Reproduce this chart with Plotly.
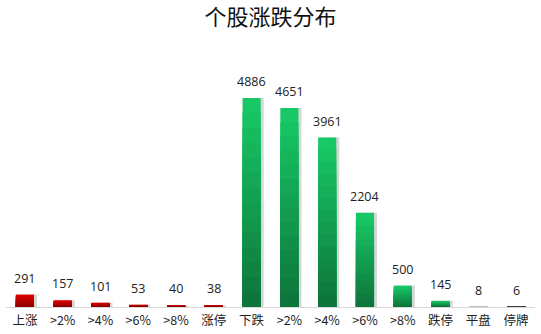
import plotly.graph_objects as go

categories = ["上涨", ">2%", ">4%", ">6%", ">8%", "涨停", "下跌", ">2%", ">4%", ">6%", ">8%", "跌停", "平盘", "停牌"]
values = [291, 157, 101, 53, 40, 38, 4886, 4651, 3961, 2204, 500, 145, 8, 6]
groups = ["up"] * 6 + ["down"] * 6 + ["flat", "halt"]

# (top colour, bottom colour) per group
grad = {
    "up": ((222, 0, 0), (140, 0, 0)),
    "down": ((24, 200, 102), (14, 118, 60)),
    "flat": ((215, 215, 215), (190, 190, 190)),
    "halt": ((90, 90, 90), (60, 60, 60)),
}
x = list(range(len(categories)))

fig = go.Figure()
# soft shadow
fig.add_trace(go.Bar(
    x=x, y=values, width=0.5, offset=-0.18,
    marker=dict(color="rgba(0,0,0,0.16)", line=dict(width=0)),
    hoverinfo="skip", showlegend=False,
))

steps = 14
for k in range(steps):
    frac = (steps - k) / steps
    t = k / (steps - 1)
    cols = []
    for g in groups:
        top, bot = grad[g]
        c = [round(top[i] + (bot[i] - top[i]) * t) for i in range(3)]
        cols.append("rgb(%d,%d,%d)" % tuple(c))
    fig.add_trace(go.Bar(
        x=x, y=[v * frac for v in values], width=0.48,
        marker=dict(color=cols, line=dict(width=0)),
        hoverinfo="skip", showlegend=False,
    ))

for xi, v in zip(x, values):
    fig.add_annotation(x=xi, y=v, text=str(v), showarrow=False,
                       yanchor="bottom", yshift=6,
                       font=dict(family="Open Sans, Noto Sans, sans-serif", size=12.5, color="#222222"))

fig.update_layout(
    width=541, height=334,
    margin=dict(l=6, r=6, t=40, b=27),
    paper_bgcolor="white", plot_bgcolor="white",
    barmode="overlay",
    title=dict(text="个股涨跌分布", x=0.5, xanchor="center", y=0.948, yanchor="middle",
               font=dict(family="Noto Sans CJK SC", size=22, color="#111111")),
    xaxis=dict(tickmode="array", tickvals=x, ticktext=categories,
               range=[-0.5, len(categories) - 0.5], automargin=False,
               showline=True, linecolor="#d9d9d9", linewidth=1,
               ticks="", showgrid=False, zeroline=False, ticklabelstandoff=2,
               tickfont=dict(family="Noto Sans CJK SC, Open Sans, sans-serif", size=12.5, color="#222222")),
    yaxis=dict(range=[0, 6240], visible=False, showgrid=False, zeroline=False),
)

fig.write_html("out.html")
